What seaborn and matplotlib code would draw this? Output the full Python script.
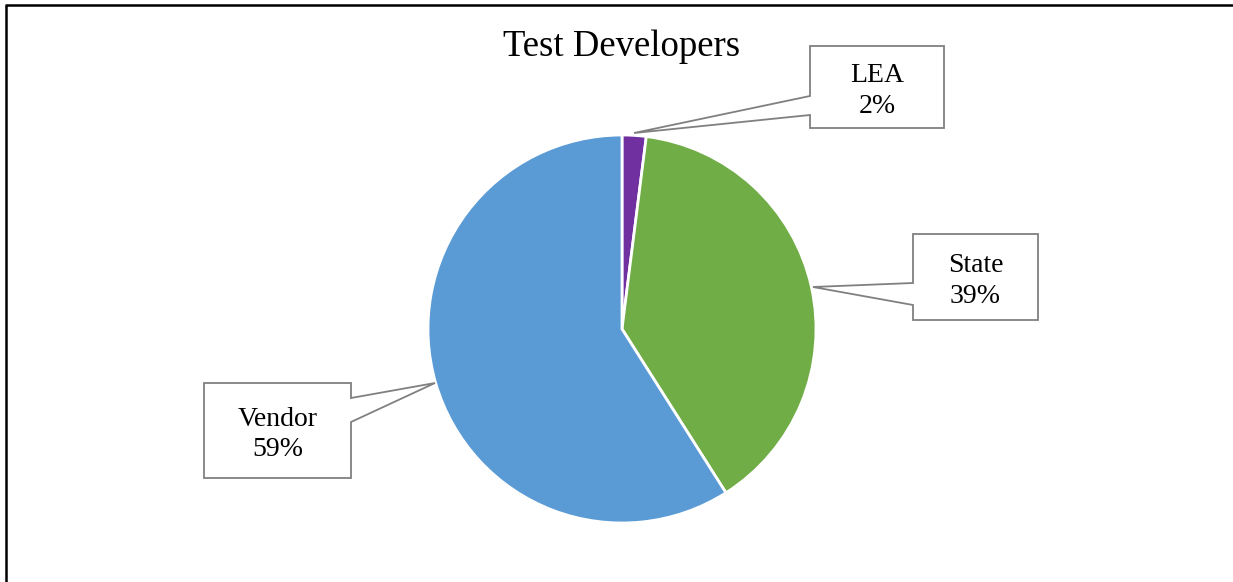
import matplotlib
matplotlib.use("Agg")
import matplotlib.pyplot as plt
import seaborn as sns
from matplotlib.patches import Polygon

# Data
developers = ["LEA", "State", "Vendor"]
shares = [2, 39, 59]
colors = ["#7030A0", "#70AD47", "#5B9BD5"]
title = "Test Developers"

sns.set_theme(style="white")
plt.rcParams["font.family"] = ["Liberation Serif", "DejaVu Serif"]

W, H = 1233, 582
fig = plt.figure(figsize=(W / 100, H / 100), dpi=100)
ax = fig.add_axes([0, 0, 1, 1])


def py(y):
    # pixel row (from top) -> data y
    return H - y


# pie centred at pixel (622, 329), radius 194
ax.pie(shares, colors=colors, startangle=90, counterclock=False,
       center=(622, py(329)), radius=194, frame=True,
       wedgeprops=dict(edgecolor="white", linewidth=2))

# callouts: box (x0, y0, x1, y1), notch side, notch y range, tip point (pixels)
callouts = {
    "LEA": dict(box=(810, 46, 944, 128), side="left", notch=(96, 115), tip=(634, 133)),
    "State": dict(box=(913, 234, 1038, 320), side="left", notch=(283, 305), tip=(813, 287)),
    "Vendor": dict(box=(204, 383, 351, 478), side="right", notch=(398, 422), tip=(435, 383)),
}

for name, share in zip(developers, shares):
    c = callouts[name]
    x0, y0, x1, y1 = c["box"]
    n0, n1 = c["notch"]
    tx, ty = c["tip"]
    if c["side"] == "left":
        pts = [(x0, y0), (x1, y0), (x1, y1), (x0, y1), (x0, n1), (tx, ty), (x0, n0)]
    else:
        pts = [(x0, y0), (x1, y0), (x1, n0), (tx, ty), (x1, n1), (x1, y1), (x0, y1)]
    pts = [(x, py(y)) for x, y in pts]
    ax.add_patch(Polygon(pts, closed=True, facecolor="white", edgecolor="#808080",
                         linewidth=1.3, zorder=3))
    ax.text((x0 + x1) / 2, py((y0 + y1) / 2 + 4), f"{name}\n{share}%",
            ha="center", va="center", fontsize=20, color="black",
            linespacing=1.3, zorder=4)

ax.text(622, py(47), title, ha="center", va="center", fontsize=26.5, color="black")

# outer frame (left and top only visible)
ax.plot([6, 6], [py(5), py(600)], color="black", linewidth=1.8, solid_capstyle="butt")
ax.plot([5, 1240], [py(5), py(5)], color="black", linewidth=1.8, solid_capstyle="butt")

ax.set_xlim(0, W)
ax.set_ylim(0, H)
ax.set_aspect("auto")
ax.axis("off")

fig.savefig("out.png", dpi=100, facecolor="white")
